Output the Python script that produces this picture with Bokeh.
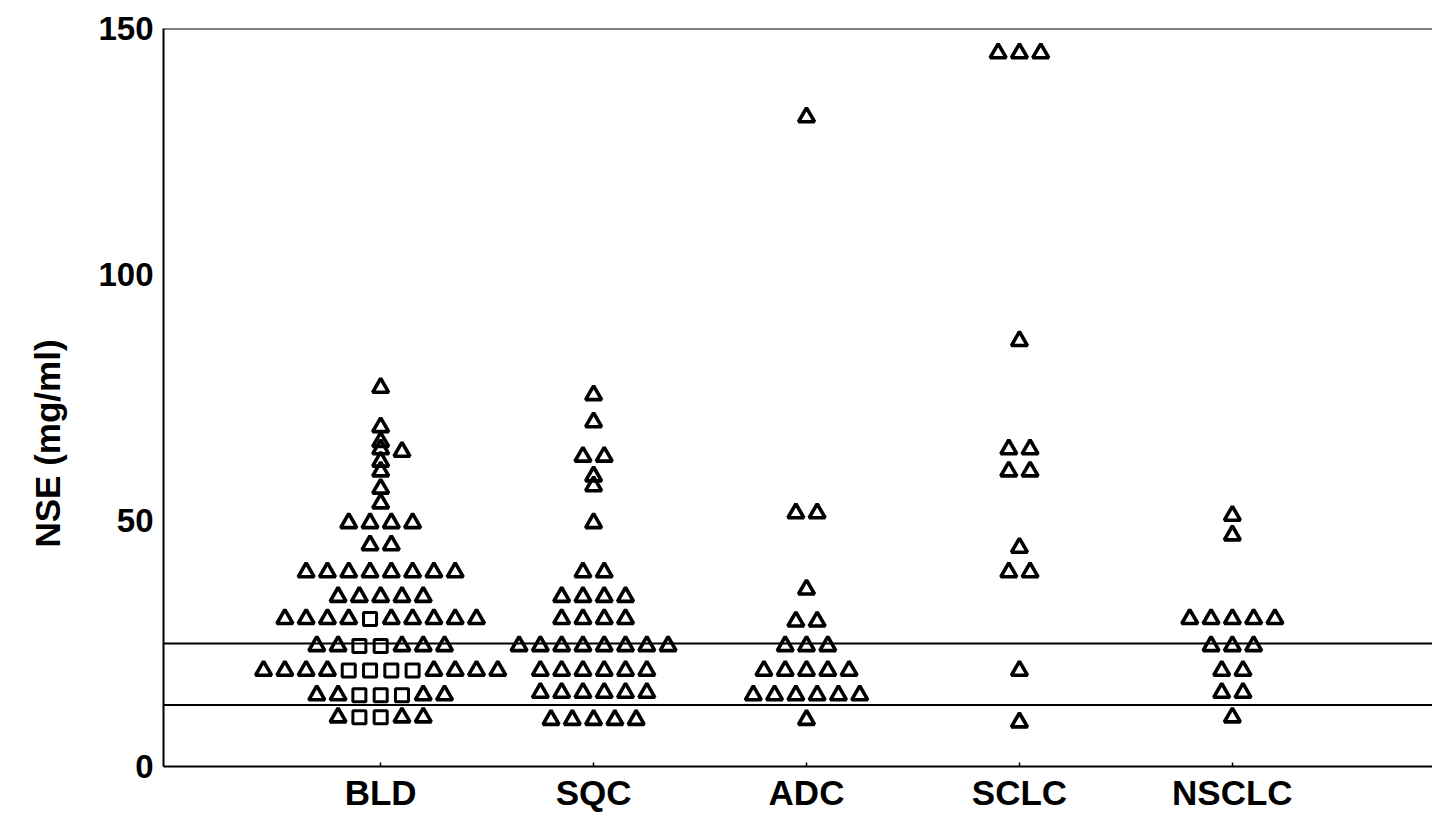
from bokeh.plotting import figure
from bokeh.models import Range1d, FixedTicker, Span, ColumnDataSource, Title
from bokeh.embed import file_html
from bokeh.resources import INLINE

# ---------------- data ----------------
categories = ["BLD", "SQC", "ADC", "SCLC", "NSCLC"]

# triangles: value of each row and number of markers in that row
bld_tri_vals = [77, 69, 66, 64.5, 64, 62, 60, 56.5, 53.5, 49.5, 45, 39.5, 34.5, 30, 24.5, 19.5, 14.5, 10]
bld_tri_n = [1, 1, 1, 1, 1, 1, 1, 1, 1, 4, 2, 8, 5, 9, 5, 8, 4, 3]
# squares (BLD only)
bld_sq_vals = [30, 24.5, 19.5, 14.5, 10]
bld_sq_n = [1, 2, 4, 3, 2]

sqc_tri_vals = [75.5, 70, 63, 59, 57, 49.5, 39.5, 34.5, 30, 24.5, 19.5, 15, 9.5]
sqc_tri_n = [1, 1, 2, 1, 1, 1, 2, 4, 4, 8, 6, 6, 5]

adc_tri_vals = [132, 51.5, 36, 29.5, 24.5, 19.5, 14.5, 9.5]
adc_tri_n = [1, 2, 1, 2, 3, 5, 6, 1]

sclc_tri_vals = [145, 86.5, 64.5, 60, 44.5, 39.5, 19.5, 9]
sclc_tri_n = [3, 1, 2, 2, 1, 2, 1, 1]

nsclc_tri_vals = [51, 47, 30, 24.5, 19.5, 15, 10]
nsclc_tri_n = [1, 1, 5, 3, 2, 2, 1]

cutoff_lines = [25, 12.5]
y_ticks = [0, 50, 100, 150]
y_title = "NSE (mg/ml)"

groups = [
    (bld_tri_vals, bld_tri_n, bld_sq_vals, bld_sq_n),
    (sqc_tri_vals, sqc_tri_n, [], []),
    (adc_tri_vals, adc_tri_n, [], []),
    (sclc_tri_vals, sclc_tri_n, [], []),
    (nsclc_tri_vals, nsclc_tri_n, [], []),
]

SLOT = 0.1      # horizontal spacing of markers (x units)
MIN_DY = 1.0    # vertical closeness that forces a single marker aside


def swarm(cat_x, tv, tn, sv, sn):
    tri = dict(zip(tv, tn))
    sq = dict(zip(sv, sn))
    placed = []
    tx, ty, sx, sy = [], [], [], []
    for v in sorted(set(tv) | set(sv), reverse=True):
        nt = tri.get(v, 0)
        ns = sq.get(v, 0)
        n = nt + ns
        if n == 1:
            order = [0]
            for k in range(1, 10):
                order += [k, -k]
            for s in order:
                if not any(abs(ps - s) < 1 and abs(pv - v) < MIN_DY for ps, pv in placed):
                    break
            slots = [s]
        else:
            slots = [i - (n - 1) / 2 for i in range(n)]
        left = nt // 2
        shapes = ["t"] * left + ["s"] * ns + ["t"] * (nt - left)
        for s, shp in zip(slots, shapes):
            placed.append((s, v))
            if shp == "t":
                tx.append(cat_x + s * SLOT)
                ty.append(v)
            else:
                sx.append(cat_x + s * SLOT)
                sy.append(v)
    return tx, ty, sx, sy


TX, TY, SX, SY = [], [], [], []
for i, (tv, tn, sv, sn) in enumerate(groups):
    a, b, c, d = swarm(i + 1, tv, tn, sv, sn)
    TX += a; TY += b; SX += c; SY += d

tri_src = ColumnDataSource(dict(x=TX, y=TY))
sq_src = ColumnDataSource(dict(x=SX, y=SY))

FONT = "Liberation Sans"
X0, X1 = -0.02, 5.94

p = figure(frame_width=1269, frame_height=738, output_backend="svg", toolbar_location=None,
           x_range=Range1d(X0, X1), y_range=Range1d(0, 150),
           min_border_left=161, min_border_right=0, min_border_top=28, min_border_bottom=47)
p.outline_line_color = None
p.grid.visible = False
p.background_fill_color = "white"
p.border_fill_color = "white"

for v in cutoff_lines:
    p.add_layout(Span(location=v, dimension="width", line_color="black", line_width=2))
p.add_layout(Span(location=150, dimension="width", line_color="black", line_width=2))

p.scatter("x", "y", source=tri_src, marker="triangle", size=16, fill_color=None,
          line_color="black", line_width=3.6)
p.scatter("x", "y", source=sq_src, marker="square", size=13, fill_color=None,
          line_color="black", line_width=3.0)

# y axis
p.yaxis.ticker = FixedTicker(ticks=y_ticks)
p.yaxis.axis_line_width = 2
p.yaxis.major_tick_line_color = None
p.yaxis.major_tick_out = 0
p.yaxis.major_tick_in = 0
p.yaxis.minor_tick_line_color = None
p.yaxis.major_label_text_font = FONT
p.yaxis.major_label_text_font_style = "bold"
p.yaxis.major_label_text_font_size = "33px"
p.yaxis.major_label_text_color = "black"
p.yaxis.major_label_standoff = 10

# y title (sits below the middle of the axis in the reference)
p.add_layout(Title(text=y_title, align="left", offset=219, standoff=54, vertical_align="top",
                   text_font=FONT, text_font_style="bold", text_font_size="35px",
                   text_color="black"), "left")

# x axis
p.xaxis.ticker = FixedTicker(ticks=[1, 2, 3, 4, 5])
p.xaxis.major_label_overrides = {i + 1: c for i, c in enumerate(categories)}
p.xaxis.axis_line_width = 2
p.xaxis.major_tick_in = 4
p.xaxis.major_tick_out = 0
p.xaxis.major_tick_line_width = 1.5
p.xaxis.minor_tick_line_color = None
p.xaxis.major_label_text_font = FONT
p.xaxis.major_label_text_font_style = "bold"
p.xaxis.major_label_text_font_size = "35px"
p.xaxis.major_label_text_color = "black"
p.xaxis.major_label_standoff = 6

open("out.html", "w").write(file_html(p, INLINE))
